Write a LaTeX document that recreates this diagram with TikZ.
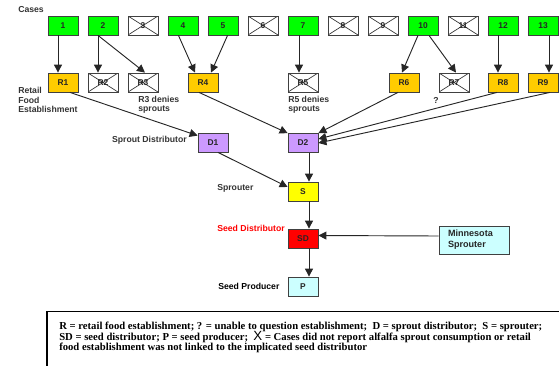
\documentclass[tikz,border=0pt]{standalone}
\usepackage{fontspec}
\setmainfont{Liberation Serif}
\setsansfont{Liberation Sans}
\usepackage{xcolor}
\usetikzlibrary{arrows.meta, positioning}

\definecolor{casegreen}{HTML}{00FF00}
\definecolor{retailgold}{HTML}{FFCC00}
\definecolor{distpurple}{HTML}{CC99FF}
\definecolor{sproutyellow}{HTML}{FFFF00}
\definecolor{seedred}{HTML}{FF0000}
\definecolor{producercyan}{HTML}{CCFFFF}

\begin{document}
\begin{tikzpicture}[
    x=0.75pt, y=-0.75pt,
    box/.style={rectangle, minimum width=22.5pt, minimum height=14.25pt, inner sep=0pt, draw=black!75, line width=0.6pt, text=black!85, font=\fontsize{6.3}{7}\selectfont\sffamily\bfseries},
    case/.style={box, fill=casegreen},
    retail/.style={box, fill=retailgold},
    crossed/.style={box, fill=white, path picture={\draw[black!80, line width=0.5pt] (path picture bounding box.north west) -- (path picture bounding box.south east) (path picture bounding box.south west) -- (path picture bounding box.north east);}},
    steplabel/.style={inner sep=0pt, align=left, text=black!80, font=\fontsize{6.5}{6.9}\selectfont\sffamily\bfseries},
    legendbox/.style={rectangle, draw=black, line width=1.2pt, inner sep=0pt},
    legendtext/.style={inner sep=0pt, align=left, font=\fontsize{8}{7.7}\selectfont\rmfamily\bfseries},
    arrow/.style={-{Triangle[length=6pt, width=6pt]}, line width=0.7pt, black!85}
]
\useasboundingbox (0,0) rectangle (559,365);

% Cases
\node[steplabel, anchor=west] (caseslabel) at (18,10) {Cases};
\node[case] (c1) at (63,25.5) {1};
\node[case] (c2) at (103,25.5) {2};
\node[crossed] (c3) at (143,25.5) {3};
\node[case] (c4) at (183,25.5) {4};
\node[case] (c5) at (223,25.5) {5};
\node[crossed] (c6) at (263,25.5) {6};
\node[case] (c7) at (303,25.5) {7};
\node[crossed] (c8) at (343,25.5) {8};
\node[crossed] (c9) at (383,25.5) {9};
\node[case] (c10) at (423,25.5) {10};
\node[crossed] (c11) at (463,25.5) {11};
\node[case] (c12) at (503,25.5) {12};
\node[case] (c13) at (543,25.5) {13};

% Retail Food Establishments
\node[retail] (r1) at (63,82.5) {R1};
\node[crossed] (r2) at (103,82.5) {R2};
\node[crossed] (r3) at (143,82.5) {R3};
\node[retail] (r4) at (203,82.5) {R4};
\node[crossed] (r5) at (303,82.5) {R5};
\node[retail] (r6) at (404,82.5) {R6};
\node[crossed] (r7) at (454,82.5) {R7};
\node[retail] (r8) at (503,82.5) {R8};
\node[retail] (r9) at (543,82.5) {R9};

\node[steplabel, anchor=west] (retaillabel) at (18,100) {Retail\\Food\\Establishment};
\node[steplabel, anchor=west] (r3note) at (138,104.5) {R3 denies\\sprouts};
\node[steplabel, anchor=west] (r5note) at (288,104.5) {R5 denies\\sprouts};
\node[steplabel] (r7note) at (436,100) {?};

% Distributors and sprouter
\node[box, fill=distpurple] (d1) at (213,142.5) {D1};
\node[box, fill=distpurple] (d2) at (303,143) {D2};
\node[box, fill=sproutyellow] (s) at (303,191.5) {S};
\node[box, fill=seedred] (sd) at (303,238.5) {SD};
\node[box, fill=producercyan] (p) at (303,286.5) {P};
\node[box, fill=producercyan, minimum width=52.5pt, minimum height=21pt, text width=39pt, inner xsep=6.75pt, align=left, font=\fontsize{6.8}{8.25}\selectfont\sffamily\bfseries] (mn) at (474,240) {Minnesota\\Sprouter};

\node[steplabel, anchor=east] (distlabel) at (187,140) {Sprout Distributor};
\node[steplabel, anchor=west] (sproutlabel) at (217,188) {Sprouter};
\node[steplabel, anchor=west, text=seedred] (seedlabel) at (217,228) {Seed Distributor};
\node[steplabel, anchor=west, text=black] (producerlabel) at (218,286) {Seed Producer};

% Legend
\node[legendbox, anchor=north west, minimum width=397.5pt, minimum height=52pt] (legendframe) at (46,310.5) {};
\node[legendtext, anchor=north west] (legend) at (59,322) {R = retail food establishment; ? = unable to question establishment;\ \ D = sprout distributor;\ \ S = sprouter;\\
SD = seed distributor; P = seed producer;\ \ \smash{\fontsize{10}{7}\selectfont\sffamily\mdseries X} = Cases did not report alfalfa sprout consumption or retail\\
food establishment was not linked to the implicated seed distributor};

% Arrows - Cases to Retail
\draw[arrow] ([xshift=-3.75pt]c1.south) -- ([xshift=-3.75pt]r1.north);
\draw[arrow] ([xshift=-3.75pt]c2.south) -- ([xshift=-3.75pt]r2.north);
\draw[arrow] ([xshift=-3.75pt]c2.south) -- ([xshift=1.5pt]r3.north);
\draw[arrow] ([xshift=-3.4pt]c4.south) -- ([xshift=-6pt]r4.north);
\draw[arrow] ([xshift=3.4pt]c5.south) -- ([xshift=6pt]r4.north);
\draw[arrow] ([xshift=-3pt]c7.south) -- ([xshift=-3pt]r5.north);
\draw[arrow] ([xshift=-3.75pt]c10.south) -- ([xshift=-1.5pt]r6.north);
\draw[arrow] ([xshift=4.5pt]c10.south) -- ([xshift=1.5pt]r7.north);
\draw[arrow] ([xshift=-3.75pt]c12.south) -- ([xshift=-3.75pt]r8.north);
\draw[arrow] ([xshift=4.5pt]c13.south) -- ([xshift=4.5pt]r9.north);

% Arrows - Retail to Distributors
\draw[arrow] ([xshift=5.25pt]r1.south) -- ([yshift=-2.25pt]d1.north west);
\draw[arrow] ([xshift=-3pt]r4.south) -- (d2.north west);
\draw[arrow] ([xshift=-4.5pt]r6.south) -- (d2.north east);
\draw[arrow] ([xshift=-4.5pt]r8.south) -- ([yshift=3pt]d2.east);
\draw[arrow] ([xshift=5.25pt]r9.south) -- (d2.east);

% Arrows - Distributors down to Producer
\draw[arrow] ([xshift=3.75pt]d1.south) -- ([yshift=3.4pt]s.west);
\draw[arrow] ([xshift=4.5pt]d2.south) -- ([xshift=4.5pt]s.north);
\draw[arrow] ([xshift=4.5pt]s.south) -- ([xshift=4.5pt]sd.north);
\draw[arrow] ([xshift=4.5pt]sd.south) -- ([xshift=4.5pt]p.north);
\draw[arrow] ([yshift=3pt]mn.west) -- ([yshift=2.25pt]sd.east);

\end{tikzpicture}
\end{document}
